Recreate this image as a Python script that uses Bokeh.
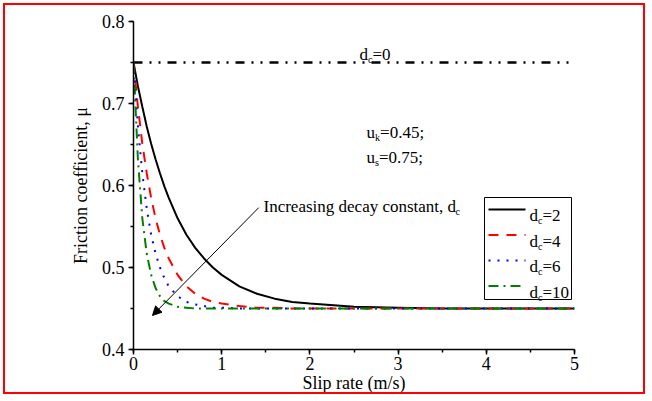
from bokeh.plotting import figure
from bokeh.models import Range1d, NormalHead, Arrow, SingleIntervalTicker
from bokeh.core.properties import value
from bokeh.embed import file_html
from bokeh.resources import INLINE

# ---- data ----
slip = [0, 0.05, 0.1, 0.15, 0.2, 0.25, 0.3, 0.35, 0.4, 0.5, 0.6, 0.7, 0.8, 0.9,
        1.0, 1.2, 1.4, 1.6, 1.8, 2.0, 2.5, 3.0, 3.5, 4.0, 4.5, 5.0]
mu_dc2 = [0.750, 0.721, 0.696, 0.672, 0.651, 0.632, 0.615, 0.599, 0.585, 0.560,
          0.540, 0.524, 0.511, 0.500, 0.491, 0.477, 0.468, 0.462, 0.458, 0.456,
          0.452, 0.451, 0.450, 0.450, 0.450, 0.450]
mu_dc4 = [0.750, 0.696, 0.651, 0.615, 0.585, 0.560, 0.540, 0.524, 0.511, 0.491,
          0.477, 0.468, 0.462, 0.458, 0.456, 0.453, 0.451, 0.451, 0.450, 0.450,
          0.450, 0.450, 0.450, 0.450, 0.450, 0.450]
mu_dc6 = [0.750, 0.672, 0.615, 0.572, 0.540, 0.517, 0.500, 0.487, 0.477, 0.465,
          0.458, 0.455, 0.453, 0.451, 0.451, 0.450, 0.450, 0.450, 0.450, 0.450,
          0.450, 0.450, 0.450, 0.450, 0.450, 0.450]
mu_dc10 = [0.750, 0.632, 0.560, 0.517, 0.491, 0.475, 0.465, 0.459, 0.456, 0.452,
           0.451, 0.450, 0.450, 0.450, 0.450, 0.450, 0.450, 0.450, 0.450, 0.450,
           0.450, 0.450, 0.450, 0.450, 0.450, 0.450]
slip_dc0 = [0, 5]
mu_dc0 = [0.75, 0.75]

legend_labels = ["2", "4", "6", "10"]
x_ticks_interval = 1
y_ticks_interval = 0.1

FONT = "Liberation Serif"
# approximate advance widths (em) of Times-like glyphs used as main / subscript
GLYPH_W = {"d": 0.5, "u": 0.5, "c": 0.444, "k": 0.5, "s": 0.389}

p = figure(width=642, height=391, output_backend="svg", toolbar_location=None,
           x_range=Range1d(0, 5), y_range=Range1d(0.4, 0.8),
           min_border_left=128, min_border_right=73,
           min_border_top=16, min_border_bottom=47)
p.styles = {"border": "2px solid #ff0000"}
p.margin = (3, 3, 3, 3)

# pixel ranges for decorations (page coordinates)
p.extra_x_ranges = {"px": Range1d(133, 574)}
p.extra_y_ranges = {"py": Range1d(349, 21)}

p.outline_line_color = None
p.xgrid.visible = False
p.ygrid.visible = False
p.background_fill_color = "white"
p.border_fill_color = "white"

for ax in (p.xaxis[0], p.yaxis[0]):
    ax.axis_line_color = "black"
    ax.axis_line_width = 1.5
    ax.major_tick_line_color = "black"
    ax.minor_tick_line_color = "black"
    ax.major_tick_line_width = 1.5
    ax.minor_tick_line_width = 1.5
    ax.major_tick_in = 0
    ax.major_tick_out = 5
    ax.minor_tick_in = 0
    ax.minor_tick_out = 3
    ax.major_label_text_font = FONT
    ax.major_label_text_font_size = "18px"
    ax.major_label_text_font_style = "normal"
    ax.major_label_text_color = "black"
    ax.axis_label_text_font = FONT
    ax.axis_label_text_font_size = "18px"
    ax.axis_label_text_font_style = "normal"
    ax.axis_label_text_color = "black"

p.xaxis.ticker = SingleIntervalTicker(interval=x_ticks_interval, num_minor_ticks=2)
p.yaxis.ticker = SingleIntervalTicker(interval=y_ticks_interval, num_minor_ticks=2)
p.xaxis.axis_label = "Slip rate (m/s)"
p.yaxis.axis_label = "Friction coefficient, \u03bc"
p.xaxis.major_label_standoff = 2
p.xaxis.axis_label_standoff = 0
p.yaxis.major_label_standoff = 4
p.yaxis.axis_label_standoff = 8

# ---- curves ----
p.line(slip_dc0, mu_dc0, line_color="black", line_width=2.5, line_dash="9 7 2 7 2 7")
styles = [
    ("black", "solid", 2),
    ("#ff0000", "10 8", 2),
    ("#0000ff", "2 7", 2),
    ("#008000", "10 5 2 5", 2),
]
series = [mu_dc2, mu_dc4, mu_dc6, mu_dc10]
for ys, (c, d, w) in zip(series, styles):
    p.line(slip, ys, line_color=c, line_width=w, line_dash=d)


def txt(x, y, s, size):
    p.text(x=[x], y=[y], text=[s], x_range_name="px", y_range_name="py",
           text_font=value(FONT), text_font_size=f"{size:.1f}px", text_color="black",
           text_baseline="alphabetic", text_align="left")


def sub_text(x, y, main, sub, rest, size):
    sub_size = size * 0.6
    x_sub = x + GLYPH_W[main] * size
    txt(x, y, main, size)
    txt(x_sub, y + size * 0.3, sub, sub_size)
    if rest:
        txt(x_sub + GLYPH_W[sub] * sub_size, y, rest, size)


# annotations
sub_text(359, 54, "d", "c", "=0", 17)
sub_text(366, 132, "u", "k", "=0.45;", 17)
sub_text(366, 157, "u", "s", "=0.75;", 17)
txt(263, 206, "Increasing decay constant, d", 17)
txt(455, 211, "c", 10.2)

p.add_layout(Arrow(x_start=1.42, y_start=0.573, x_end=0.215, y_end=0.4415,
                   line_color="black", line_width=1,
                   end=NormalHead(size=9, fill_color="black", line_color="black",
                                  line_width=1)))

# ---- legend (drawn manually to keep subscripts) ----
p.quad(left=[484], right=[571], top=[197], bottom=[299], x_range_name="px",
       y_range_name="py", fill_color="white", line_color="black", line_width=1)
row_y = [209, 234.5, 260, 285.5]
for ry, lab, (c, d, w) in zip(row_y, legend_labels, styles):
    p.line([488, 525], [ry, ry], x_range_name="px", y_range_name="py",
           line_color=c, line_width=w, line_dash=d)
    sub_text(529, ry + 6, "d", "c", "=" + lab, 17)

open("out.html", "w").write(file_html(p, INLINE))
